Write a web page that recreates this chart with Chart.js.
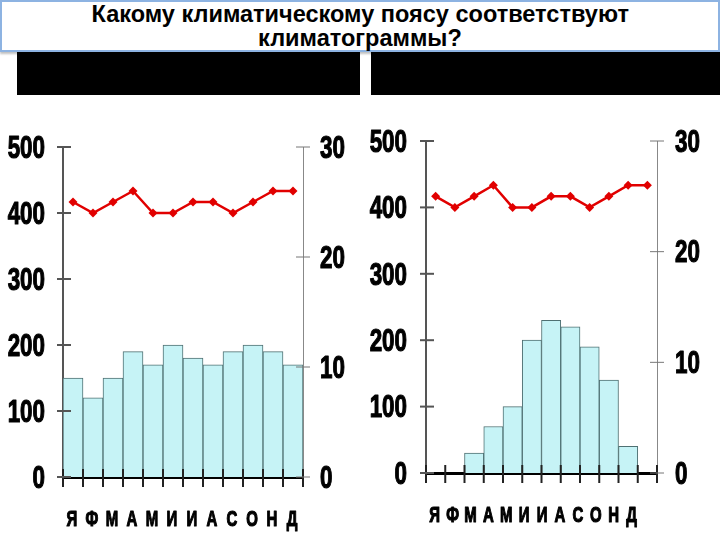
<!DOCTYPE html>
<html>
<head>
<meta charset="utf-8">
<script src="https://cdn.jsdelivr.net/npm/chart.js@4.4.1/dist/chart.umd.min.js"></script>
<style>
  body { margin: 0; width: 720px; height: 540px; background: #fff; position: relative; overflow: hidden; }
  #title {
    position: absolute; left: 0; top: 0; width: 716px; height: 48px;
    border: 2px solid #8db3e2; background: #fff; z-index: 2;
    text-align: center; font-family: "Liberation Sans", Arial, sans-serif;
    font-weight: bold; font-size: 24px; line-height: 24px; color: #000;
    box-shadow: 0 2px 2px rgba(0,0,0,0.25);
  }
  #title span { display: inline-block; transform: scaleX(0.98); }
  .blk { position: absolute; top: 50px; height: 45px; background: #000; }
  canvas { position: absolute; top: 100px; }
</style>
</head>
<body>
<div id="title"><span>Какому климатическому поясу соответствуют</span><br><span>климатограммы?</span></div>
<div class="blk" style="left:17px;width:343px"></div>
<div class="blk" style="left:371px;width:349px"></div>
<canvas id="chartLeft" width="360" height="440" style="left:0"></canvas>
<canvas id="chartRight" width="360" height="440" style="left:360px"></canvas>
<script>
// months and tick labels
const months = ["Я", "Ф", "М", "А", "М", "И", "И", "А", "С", "О", "Н", "Д"];
const precipTicks = [0, 100, 200, 300, 400, 500];
const tempTicks = [0, 10, 20, 30];

// left climatogram
const precipLeft = [150, 120, 150, 190, 170, 200, 180, 170, 190, 200, 190, 170];
const tempLeft = [25, 24, 25, 26, 24, 24, 25, 25, 24, 25, 26, 26];

// right climatogram
const precipRight = [0, 0, 30, 70, 100, 200, 230, 220, 190, 140, 40, 0];
const tempRight = [25, 24, 25, 26, 24, 24, 25, 25, 24, 25, 26, 26];

const FONT = "'Liberation Sans', Arial, sans-serif";

function seg(ctx, x1, y1, x2, y2) {
  ctx.beginPath();
  ctx.moveTo(x1, y1);
  ctx.lineTo(x2, y2);
  ctx.stroke();
}

// condensed heavy text (the original uses a narrow black face)
function narrowText(ctx, text, x, y, align, squeeze, size) {
  ctx.save();
  ctx.translate(x, y);
  ctx.scale(squeeze, 1);
  ctx.font = "bold " + size + "px " + FONT;
  ctx.fillStyle = "#000";
  ctx.strokeStyle = "#000";
  ctx.lineWidth = 1.2;
  ctx.lineJoin = "round";
  ctx.textAlign = align;
  ctx.textBaseline = "middle";
  ctx.fillText(text, 0, 0);
  ctx.strokeText(text, 0, 0);
  ctx.restore();
}

// tick marks crossing the axes + the tick labels
const axisDecor = {
  id: "axisDecor",
  afterDraw(chart, args, o) {
    const ctx = chart.ctx;
    const { x, yP, yT } = chart.scales;
    ctx.save();

    ctx.lineWidth = 2;
    ctx.strokeStyle = "#222";
    for (let i = 0; i <= months.length; i++) {
      const px = x.getPixelForValue(i - 0.5);
      seg(ctx, px, x.top - 8, px, x.top + 10);
    }
    ctx.strokeStyle = "#555";
    precipTicks.forEach(v => {
      const py = yP.getPixelForValue(v);
      seg(ctx, yP.right - 6, py, yP.right + 8, py);
    });
    ctx.lineWidth = 1;
    ctx.strokeStyle = "#777";
    tempTicks.forEach(v => {
      const py = yT.getPixelForValue(v);
      seg(ctx, yT.left - 7, py, yT.left + 7, py);
    });

    precipTicks.forEach(v => {
      narrowText(ctx, String(v), yP.right - o.leftGap, yP.getPixelForValue(v) + 2, "right", 0.7, 32);
    });
    tempTicks.forEach(v => {
      narrowText(ctx, String(v), yT.left + o.rightGap, yT.getPixelForValue(v) + 2, "left", 0.7, 32);
    });
    const first = x.getPixelForValue(0);
    months.forEach((m, i) => {
      const px = first + (x.getPixelForValue(i) - first) * o.spread - 1;
      narrowText(ctx, m, px, x.top + 43, "center", 0.68, 22);
    });
    ctx.restore();
  }
};

function makeChart(id, precip, temp, box) {
  return new Chart(document.getElementById(id), {
    type: "bar",
    data: {
      labels: months,
      datasets: [
        {
          type: "line",
          data: temp,
          yAxisID: "yT",
          borderColor: "#e10000",
          backgroundColor: "#e10000",
          borderWidth: 2.5,
          pointStyle: "rectRot",
          pointRadius: 4.5,
          pointBorderWidth: 0,
          tension: 0,
          order: 0,
        },
        {
          type: "bar",
          data: precip,
          yAxisID: "yP",
          backgroundColor: "#c6f3f6",
          borderColor: "#4f7072",
          borderWidth: 1,
          barPercentage: 1,
          categoryPercentage: 1,
          order: 1,
        },
      ],
    },
    options: {
      responsive: false,
      animation: false,
      layout: { padding: { top: box.top, left: 0, right: 0, bottom: 0 } },
      plugins: {
        legend: { display: false },
        tooltip: { enabled: false },
        axisDecor: { leftGap: box.leftGap, rightGap: box.rightGap, spread: box.spread },
      },
      scales: {
        x: {
          grid: { display: false, offset: true },
          border: { color: "#000", width: 3 },
          ticks: { display: false },
          afterFit: s => { s.height = box.bottom; },
        },
        yP: {
          position: "left",
          min: 0,
          max: 500,
          afterBuildTicks: s => { s.ticks = precipTicks.map(v => ({ value: v })); },
          grid: { display: false },
          border: { color: "#555", width: 2 },
          ticks: { display: false },
          afterFit: s => { s.width = box.left; },
        },
        yT: {
          position: "right",
          min: 0,
          max: 30,
          afterBuildTicks: s => { s.ticks = tempTicks.map(v => ({ value: v })); },
          grid: { display: false },
          border: { color: "#888", width: 1 },
          ticks: { display: false },
          afterFit: s => { s.width = box.right; },
        },
      },
    },
    plugins: [axisDecor],
  });
}

makeChart("chartLeft", precipLeft, tempLeft,
  { left: 63, right: 57, top: 47, bottom: 63, leftGap: 18, rightGap: 17, spread: 1 });
makeChart("chartRight", precipRight, tempRight,
  { left: 66, right: 63, top: 41, bottom: 67, leftGap: 19, rightGap: 18, spread: 0.93 });
</script>
</body>
</html>
